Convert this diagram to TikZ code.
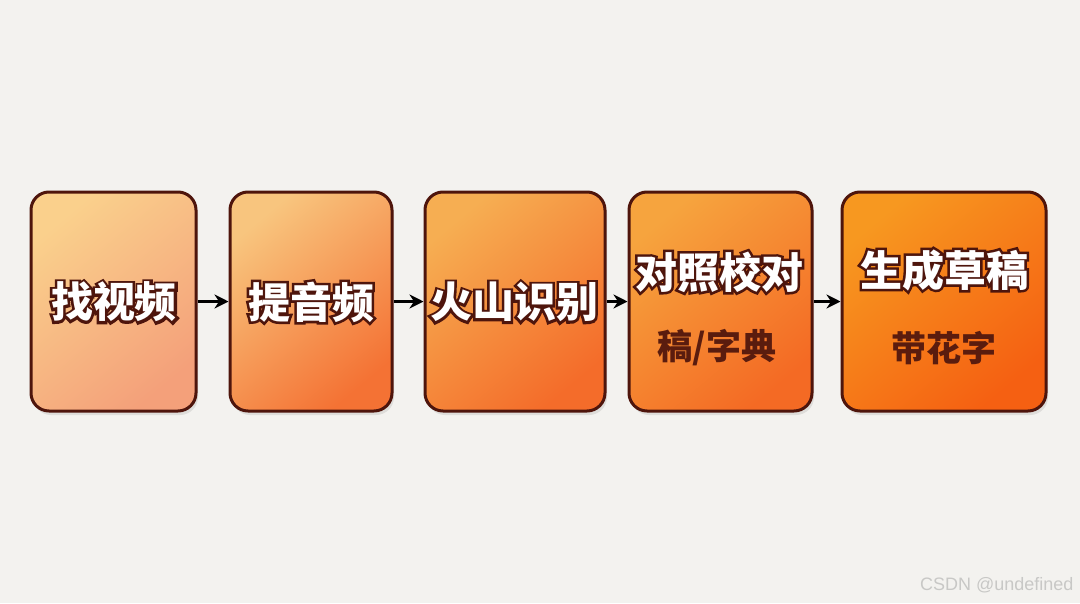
\documentclass[tikz,border=0pt]{standalone}
\usepackage{fontspec}
\usepackage{xcolor}
\usepackage{tikz}
\usetikzlibrary{arrows.meta}
\usetikzlibrary{shadows}
\newfontfamily\cjk{Noto Sans CJK SC}
\setsansfont{Liberation Sans}

\definecolor{paper}{HTML}{F3F2EF}
\definecolor{boxline}{HTML}{4E150C}
\definecolor{subtext}{HTML}{5A1C0E}
\definecolor{markgray}{HTML}{C8C8C6}
\definecolor{oneA}{HTML}{FAD08C}
\definecolor{oneB}{HTML}{F4A07A}
\definecolor{twoA}{HTML}{F8C57E}
\definecolor{twoB}{HTML}{F47234}
\definecolor{threeA}{HTML}{F6AE52}
\definecolor{threeB}{HTML}{F46C2A}
\definecolor{fourA}{HTML}{F6A43E}
\definecolor{fourB}{HTML}{F46A24}
\definecolor{fiveA}{HTML}{F79820}
\definecolor{fiveB}{HTML}{F56012}

% white letters on a dark, stroked copy of themselves
\newcommand{\rimmed}[1]{\rlap{\textcolor{boxline}{\special{pdf:literal direct 2 Tr 5 w}#1\special{pdf:literal direct 0 Tr}}}#1}

\tikzset{
  stagebox/.style={draw=boxline, line width=3pt, rounded corners=18pt,
    minimum height=219pt, drop shadow={opacity=0.18, shadow xshift=2pt, shadow yshift=-4pt}},
  maintext/.style={font=\cjk\bfseries\fontsize{42}{46}\selectfont, text=white},
  subtitle/.style={font=\cjk\bfseries\fontsize{35}{38}\selectfont, text=subtext},
  flow/.style={-{Stealth[length=14pt,width=14pt]}, line width=2.8pt, black}
}

\begin{document}
\begin{tikzpicture}[x=1pt, y=-1pt]
\fill[paper] (0,0) rectangle (1080,603);
\useasboundingbox (0,0) rectangle (1080,603);

\node[stagebox, minimum width=165pt, top color=oneA, bottom color=oneB, shading angle=40] (find) at (113.5,301.5) {};
\node[stagebox, minimum width=162pt, top color=twoA, bottom color=twoB, shading angle=40] (extract) at (311,301.5) {};
\node[stagebox, minimum width=180pt, top color=threeA, bottom color=threeB, shading angle=40] (asr) at (515,301.5) {};
\node[stagebox, minimum width=183pt, top color=fourA, bottom color=fourB, shading angle=40] (check) at (720.5,301.5) {};
\node[stagebox, minimum width=204pt, top color=fiveA, bottom color=fiveB, shading angle=40] (draft) at (944,301.5) {};

\node[maintext, anchor=center] (findtxt) at (114,302) {\rimmed{找视频}};
\node[maintext, anchor=center] (extracttxt) at (311,302) {\rimmed{提音频}};
\node[maintext, anchor=center] (asrtxt) at (514,302) {\rimmed{火山识别}};
\node[maintext, anchor=center] (checktxt) at (719,272) {\rimmed{对照校对}};
\node[subtitle, anchor=center] (checksub) at (717,348) {稿/字典};
\node[maintext, anchor=center] (drafttxt) at (944,270) {\rimmed{生成草稿}};
\node[subtitle, anchor=center] (draftsub) at (944,348) {带花字};

\draw[flow] (find.east) -- (extract.west);
\draw[flow] (extract.east) -- (asr.west);
\draw[flow] (asr.east) -- (check.west);
\draw[flow] (check.east) -- (draft.west);

\node[anchor=east, font=\sffamily\fontsize{18}{20}\selectfont, text=markgray] (mark) at (1077,585) {CSDN @undefined};
\end{tikzpicture}
\end{document}
